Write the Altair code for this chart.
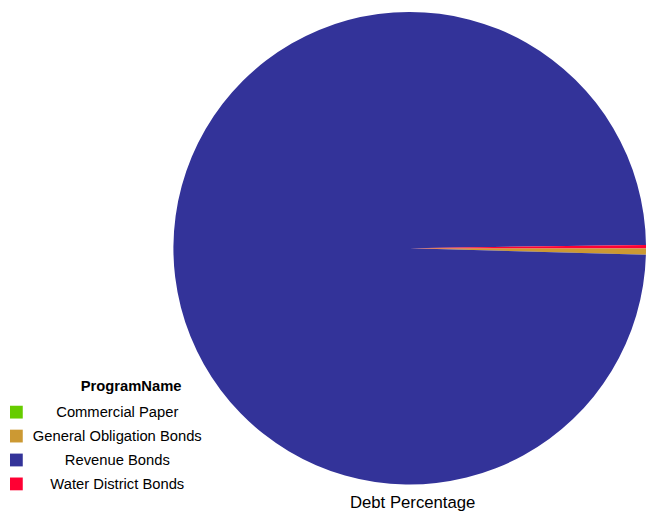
import altair as alt
import pandas as pd

programs = ["Commercial Paper", "General Obligation Bonds", "Revenue Bonds", "Water District Bonds"]
debt_pct = [0.02, 0.42, 99.34, 0.22]
colors = ["#66cc00", "#cc9933", "#333399", "#ff0033"]
legend_title = "ProgramName"
chart_title = "Debt Percentage"

df = pd.DataFrame({"ProgramName": programs, "DebtPercentage": debt_pct, "order": range(len(programs))})

pie = alt.Chart(df).mark_arc(stroke=None, radius=240).encode(
    theta=alt.Theta("DebtPercentage:Q", stack=True,
                    scale=alt.Scale(range=[1.5707963, 7.8539816])),
    x=alt.value(408),
    color=alt.Color("ProgramName:N",
                    scale=alt.Scale(domain=programs, range=colors),
                    legend=alt.Legend(orient="none", legendX=1, legendY=398,
                                      title=None,
                                      symbolType="square", symbolSize=169,
                                      symbolStrokeWidth=0, labelOffset=95,
                                      labelLimit=600,
                                      labelFontSize=15, labelFont="Liberation Sans",
                                      labelColor="#000000", labelAlign="center",
                                      rowPadding=8.3)),
    order=alt.Order("order:Q"),
)

legend_head = alt.Chart(pd.DataFrame({"t": [legend_title]})).mark_text(
    font="Liberation Sans", fontSize=15, fontWeight="bold", color="#000000",
    align="center", baseline="middle",
).encode(text="t:N", x=alt.value(125), y=alt.value(379))

chart = alt.layer(pie, legend_head).properties(
    width=638, height=478,
    padding=0,
    title=alt.TitleParams(chart_title, orient="bottom", anchor="middle",
                          fontSize=17, font="Liberation Sans", fontWeight="normal",
                          color="#000000", offset=3, dx=92),
).configure_view(stroke=None)

chart.save("out.html", embed_options={"renderer": "svg", "actions": False})
